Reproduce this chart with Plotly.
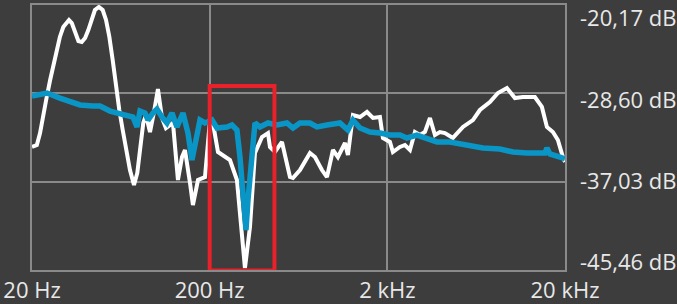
import plotly.graph_objects as go

# ---- data ----
white_hz = [20, 21.3, 22.2, 23.2, 24.2, 25.3, 26.4, 27.5, 28.7, 30.0, 31.4, 32.3, 33.5, 34.9, 36.5,
            38.1, 39.8, 41.5, 43.4, 45.2, 47.6, 50.0, 52.2, 54.5, 56.9, 59.4, 62.0, 64.8, 68.2,
            71.2, 75.0, 78.3, 81.1, 84.6, 87.6, 92.3, 97.2, 102.3, 107.8, 113.5, 124.3, 132.6,
            139.7, 145.2, 155, 161, 171.9, 188.2, 200.8, 208.6, 222.8, 260.2, 284.8, 304, 316,
            337.2, 359.8, 394, 425.8, 437, 466.2, 510.4, 566.2, 588.6, 644.6, 733.6, 782.8, 857,
            914.6, 988.4, 1054, 1155, 1200, 1281, 1403, 1536, 1660, 1817, 1889, 2068, 2150, 2354,
            2512, 2682, 2860, 3050, 3256, 3474, 3706, 3954, 4218, 4678, 5328, 6064, 6638, 7558,
            8386, 9420, 10448, 11594, 13540, 14826, 15818, 17100, 18240, 19464, 20000]
white_db = [-33.72, -33.53, -32.39, -30.48, -28.95, -27.33, -25.90, -24.46, -23.22, -22.27, -21.79,
            -21.60, -21.89, -22.84, -23.61, -23.70, -23.32, -22.56, -21.41, -20.65, -20.36, -20.65,
            -21.60, -23.22, -25.42, -28.00, -30.19, -32.10, -34.01, -35.92, -37.35, -36.20, -34.01,
            -31.43, -30.67, -32.29, -30.38, -28.19, -30.95, -31.91, -31.43, -36.87, -34.68, -34.01,
            -37.16, -39.26, -36.87, -36.59, -31.15, -31.43, -34.20, -34.96, -36.87, -41.64, -45.27,
            -41.36, -34.29, -32.77, -32.39, -33.72, -34.20, -33.24, -36.59, -36.68, -35.92, -34.29,
            -34.68, -35.92, -36.59, -34.01, -34.68, -33.34, -34.49, -30.67, -30.86, -30.38, -30.95,
            -30.86, -32.86, -33.24, -34.20, -33.72, -33.53, -34.01, -32.29, -32.58, -32.29, -30.95,
            -32.58, -32.29, -32.39, -32.86, -31.81, -31.15, -30.19, -29.43, -28.57, -28.09, -29.05,
            -28.95, -28.95, -29.90, -31.81, -32.29, -33.05, -34.68, -35.15]

blue_hz = [20, 22.2, 24.3, 28.7, 32.7, 37.3, 44.1, 48.3, 55.0, 65.0, 74.0, 78.0, 81.1, 86.5, 89.9,
           95.9, 101, 107.8, 115, 122.7, 130.9, 141.5, 151, 159, 165.3, 176.4, 188.2, 206, 219.8,
           250.4, 267, 284.8, 296.2, 307.8, 320.2, 328.6, 346, 359.8, 383.8, 425.8, 478.4, 544.6,
           588.6, 644.6, 733.6, 803.4, 914.6, 1082, 1200, 1281, 1403, 1597, 1817, 2068, 2354,
           2578, 2934, 3342, 3804, 4500, 5610, 6902, 8604, 10184, 12210, 15414, 15818, 16444,
           18722, 20000]
blue_db = [-28.86, -28.66, -28.57, -29.05, -29.43, -29.71, -29.81, -29.81, -30.29, -30.67, -30.86,
           -31.81, -30.29, -30.48, -31.15, -30.48, -30.10, -30.86, -31.43, -30.48, -31.81, -30.48,
           -32.39, -34.96, -33.72, -31.15, -31.43, -31.15, -31.91, -31.81, -31.62, -32.10, -34.68,
           -38.49, -41.64, -38.78, -34.68, -31.43, -31.81, -31.43, -31.62, -31.43, -31.91, -31.43,
           -31.43, -31.81, -31.62, -31.43, -32.10, -31.15, -31.91, -32.29, -32.39, -32.58, -32.58,
           -32.86, -32.58, -32.86, -33.24, -33.24, -33.53, -33.82, -33.91, -34.20, -34.29, -34.29,
           -33.82, -34.39, -34.68, -34.87]

x_tick_hz = [20, 200, 2000, 20000]
x_tick_labels = ["20 Hz", "200 Hz", "2 kHz", "20 kHz"]
y_tick_db = [-20.17, -28.60, -37.03, -45.46]
highlight_hz = [200, 463]
highlight_db = [-27.90, -45.51]

BG = "#3d3d3d"
GRID = "#8a8a8a"
TEXT = "#e8e8e8"
FONT = "Open Sans"

fig = go.Figure()
fig.add_trace(go.Scatter(x=white_hz, y=white_db, mode="lines",
                         line=dict(color="#ffffff", width=4), hoverinfo="skip"))
fig.add_trace(go.Scatter(x=blue_hz, y=blue_db, mode="lines",
                         line=dict(color="#0996c6", width=5.5), hoverinfo="skip"))

fig.add_shape(type="rect", xref="x", yref="y",
              x0=highlight_hz[0], x1=highlight_hz[1], y0=highlight_db[1], y1=highlight_db[0],
              line=dict(color="#e8212b", width=4), layer="above")

# y labels on the right, spread evenly between the top and bottom of the plot
label_pos = [0.955, 0.645, 0.34, 0.034]
for v, p in zip(y_tick_db, label_pos):
    fig.add_annotation(xref="paper", yref="paper", x=1.0244, y=p, xanchor="left", yanchor="middle",
                       text=f"{v:.2f}".replace(".", ",") + " dB", showarrow=False,
                       font=dict(family=FONT, size=22, color=TEXT))

fig.update_layout(
    width=677, height=304,
    margin=dict(l=32, r=112, t=5, b=34, autoexpand=False),
    paper_bgcolor=BG, plot_bgcolor=BG,
    showlegend=False,
    font=dict(family=FONT, size=22, color=TEXT),
)
fig.update_xaxes(type="log", range=[1.30103, 4.30103], automargin=False,
                 tickvals=x_tick_hz, ticktext=x_tick_labels,
                 showgrid=True, gridcolor=GRID, gridwidth=2,
                 showline=True, linecolor=GRID, linewidth=2, mirror=True,
                 zeroline=False, ticks="",
                 tickfont=dict(family=FONT, size=22, color=TEXT))
fig.update_yaxes(range=[-45.46, -20.17], tickvals=y_tick_db, showticklabels=False,
                 automargin=False,
                 showgrid=True, gridcolor=GRID, gridwidth=2,
                 showline=True, linecolor=GRID, linewidth=2, mirror=True,
                 zeroline=False, ticks="")

fig.write_html("out.html")
